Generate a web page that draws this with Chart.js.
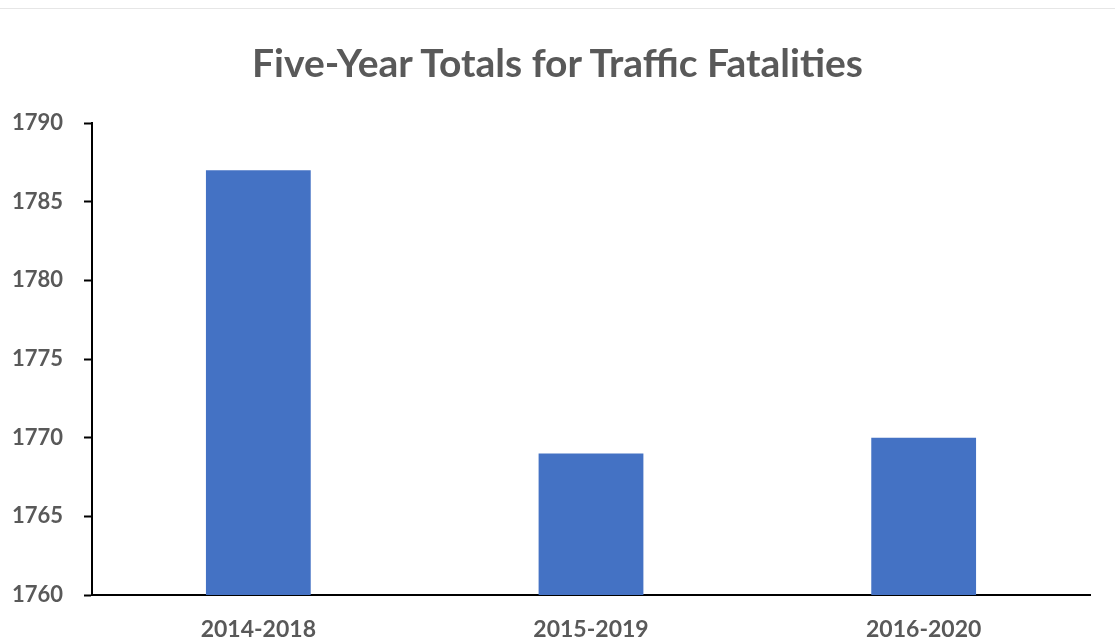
<!DOCTYPE html>
<html>
<head>
<meta charset="utf-8">
<script src="https://cdn.jsdelivr.net/npm/chart.js@4/dist/chart.umd.min.js"></script>
<style>
  html, body { margin: 0; padding: 0; background: #fff; }
  #wrap { position: relative; width: 1115px; height: 642px; }
  #topline { position: absolute; left: 0; right: 0; top: 8px; height: 1px; background: #e6e6e6; }
  #title {
    position: absolute; left: 0; top: 39px; width: 1115px; margin: 0;
    text-align: center; line-height: 46px;
    font: bold 39px Lato, 'Open Sans', sans-serif; color: #595959;
  }
  canvas { display: block; }
</style>
</head>
<body>
<div id="wrap">
  <div id="topline"></div>
  <canvas id="myChart" width="1115" height="642"></canvas>
  <h1 id="title">Five-Year Totals for Traffic Fatalities</h1>
</div>
<script>
const categories = ["2014-2018", "2015-2019", "2016-2020"];
const totals = [1787, 1769, 1770];
const yMin = 1760;
const yMax = 1790;
const yStep = 5;

const textColor = "#595959";
const fontFamily = "Lato, 'Open Sans', sans-serif";

const ctx = document.getElementById('myChart');

const chartData = {
  labels: categories,
  datasets: [
    {
      label: "Five-Year Totals",
      data: totals,
      backgroundColor: "#4472C4",
      borderWidth: 0,
      categoryPercentage: 1,
      barPercentage: 0.315
    }
  ]
};

const config = {
  type: 'bar',
  data: chartData,
  options: {
    responsive: false,
    animation: false,
    devicePixelRatio: 1,
    layout: { padding: { top: 123, right: 25, bottom: 0, left: 0 } },
    plugins: {
      legend: { display: false },
      tooltip: { enabled: false },
      title: { display: false }
    },
    scales: {
      x: {
        grid: { display: false, drawTicks: false },
        border: { color: "#000", width: 2 },
        ticks: {
          color: textColor,
          padding: 21,
          font: { family: fontFamily, size: 23, weight: 'bold' }
        },
        afterFit: (scale) => { scale.height = 47; }
      },
      y: {
        min: yMin,
        max: yMax,
        grid: { drawOnChartArea: false, tickLength: 8, color: "#000", tickWidth: 2 },
        border: { color: "#000", width: 2 },
        ticks: {
          stepSize: yStep,
          color: textColor,
          padding: 21,
          font: { family: fontFamily, size: 22, weight: 'bold' },
          callback: (value) => String(value)
        },
        afterFit: (scale) => { scale.width = 92; }
      }
    }
  }
};

const myChart = new Chart(ctx, config);
</script>
</body>
</html>
